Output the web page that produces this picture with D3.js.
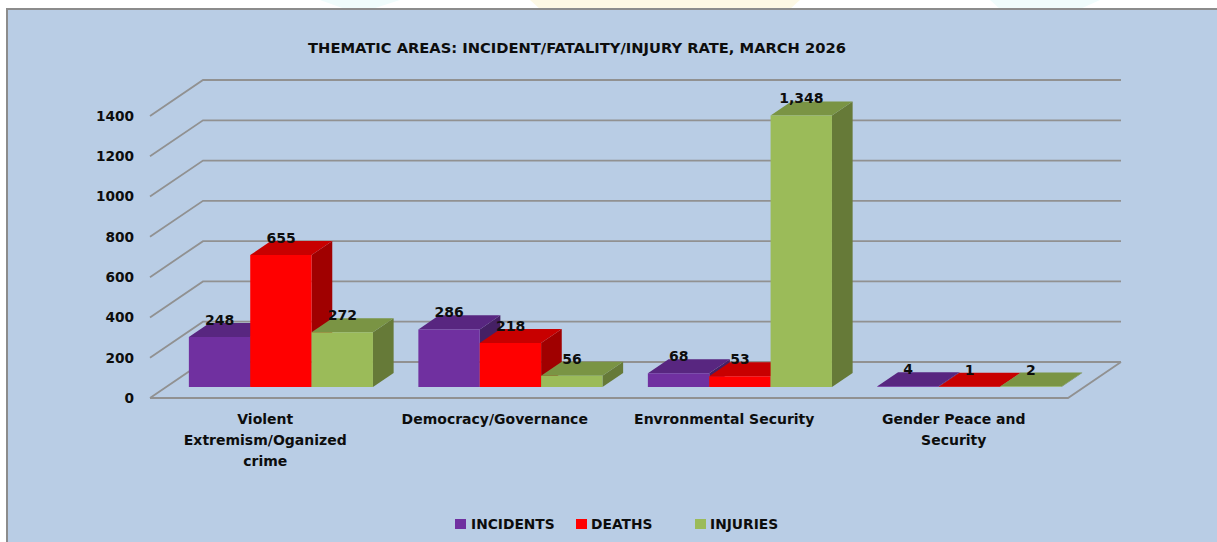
<!DOCTYPE html>
<html>
<head>
<meta charset="utf-8">
<script src="https://cdn.jsdelivr.net/npm/d3@7"></script>
<style>
  html, body { margin: 0; padding: 0; background: #fff; overflow: hidden; }
  text { font-family: "DejaVu Sans", sans-serif; font-weight: 700; fill: #0d0d0d; }
</style>
</head>
<body>
<div id="chart"></div>
<script>
const categories = [
  ["Violent", "Extremism/Oganized", "crime"],
  ["Democracy/Governance"],
  ["Envronmental Security"],
  ["Gender Peace and", "Security"]
];
const seriesNames = ["INCIDENTS", "DEATHS", "INJURIES"];
const incidents = [248, 286, 68, 4];
const deaths = [655, 218, 53, 1];
const injuries = [272, 56, 1348, 2];
const yTicks = [0, 200, 400, 600, 800, 1000, 1200, 1400];

const front = ["#7030a0", "#ff0000", "#9bbb59"];
const top_ = ["#582680", "#c80000", "#7a9444"];
const side = ["#452064", "#a00000", "#667a38"];

const width = 1217, height = 542;
const svg = d3.select("#chart").append("svg")
  .attr("width", width).attr("height", height);

// faint watermark showing above the panel
const wash = svg.append("g");
wash.append("polygon").attr("points", "320,0 400,0 372,9 345,9").attr("fill", "#f0fcfc");
wash.append("polygon").attr("points", "530,0 800,0 790,9 540,9").attr("fill", "#fdf8e4");
wash.append("polygon").attr("points", "990,0 1100,0 1080,9 1000,9").attr("fill", "#f0fcfc");

// panel runs off the right and bottom of the picture
svg.append("rect")
  .attr("x", 7).attr("y", 9).attr("width", 1240).attr("height", 560)
  .attr("fill", "#b9cde5").attr("stroke", "#8c8c8c").attr("stroke-width", 2);

// oblique projection: depth 0 = front of floor, 1 = back wall
const depthX = d3.scaleLinear().domain([0, 1]).range([0, 53]);
const depthY = d3.scaleLinear().domain([0, 1]).range([398, 362]);
const h = d3.scaleLinear().domain([0, 1400]).range([0, 282]);
const x0 = d3.scaleBand().domain(d3.range(categories.length)).range([150, 1068]);
const x1 = d3.scaleBand().domain(d3.range(3)).range([0, x0.bandwidth()]).paddingOuter(0.37).paddingInner(0);
const pt = (x, d, v) => [x + depthX(d), depthY(d) - h(v)];
const poly = pts => pts.map(p => p.join(",")).join(" ");

// grid
const grid = svg.append("g").attr("fill", "none").attr("stroke", "#919191").attr("stroke-width", 1.8);
yTicks.forEach(t => {
  grid.append("polyline")
    .attr("points", poly([pt(150, 0, t), pt(150, 1, t), pt(1068, 1, t)]));
});
grid.append("polyline")
  .attr("points", poly([pt(150, 0, 0), pt(1068, 0, 0), pt(1068, 1, 0)]));

svg.append("g").selectAll("text").data(yTicks).join("text")
  .attr("x", 134).attr("y", d => depthY(0) - h(d))
  .attr("dy", "0.35em").attr("text-anchor", "end")
  .attr("font-size", 13.7).text(d => d);

// bars, sides first so the next bar's front covers them
const d0 = 0.305, d1 = 0.695;
const values = [incidents, deaths, injuries];
const bars = svg.append("g");
categories.forEach((c, i) => {
  values.forEach((vals, s) => {
    const v = vals[i];
    const xa = x0(i) + x1(s), xb = xa + x1.bandwidth();
    bars.append("polygon").attr("fill", side[s])
      .attr("points", poly([pt(xb, d0, 0), pt(xb, d1, 0), pt(xb, d1, v), pt(xb, d0, v)]));
    bars.append("polygon").attr("fill", top_[s])
      .attr("points", poly([pt(xa, d0, v), pt(xb, d0, v), pt(xb, d1, v), pt(xa, d1, v)]));
    bars.append("polygon").attr("fill", front[s])
      .attr("points", poly([pt(xa, d0, 0), pt(xb, d0, 0), pt(xb, d0, v), pt(xa, d0, v)]));
  });
});

// value labels
const fmt = d3.format(",");
categories.forEach((c, i) => {
  values.forEach((vals, s) => {
    const v = vals[i];
    const p = pt(x0(i) + x1(s) + x1.bandwidth() / 2, d1, v);
    svg.append("text")
      .attr("x", p[0] - 20.5).attr("y", p[1] + 2)
      .attr("text-anchor", "middle").attr("font-size", 14)
      .style("font-weight", 700).text(fmt(v));
  });
});

// category labels
categories.forEach((lines, i) => {
  const t = svg.append("text").attr("text-anchor", "middle").attr("font-size", 14);
  lines.forEach((l, k) => {
    t.append("tspan").attr("x", x0(i) + x0.bandwidth() / 2 + 0.5).attr("y", 424 + k * 21).text(l);
  });
});

// title
svg.append("text").attr("x", 577).attr("y", 53).attr("text-anchor", "middle")
  .attr("font-size", 14.7).text("THEMATIC AREAS: INCIDENT/FATALITY/INJURY RATE, MARCH 2026");

// legend
const legendX = [455, 576, 695];
const legendTextX = [471, 591, 710];
seriesNames.forEach((n, s) => {
  svg.append("rect").attr("x", legendX[s]).attr("y", 519).attr("width", 11).attr("height", 10).attr("fill", front[s]);
  svg.append("text").attr("x", legendTextX[s]).attr("y", 529).attr("font-size", 13.8).text(n);
});
</script>
</body>
</html>
